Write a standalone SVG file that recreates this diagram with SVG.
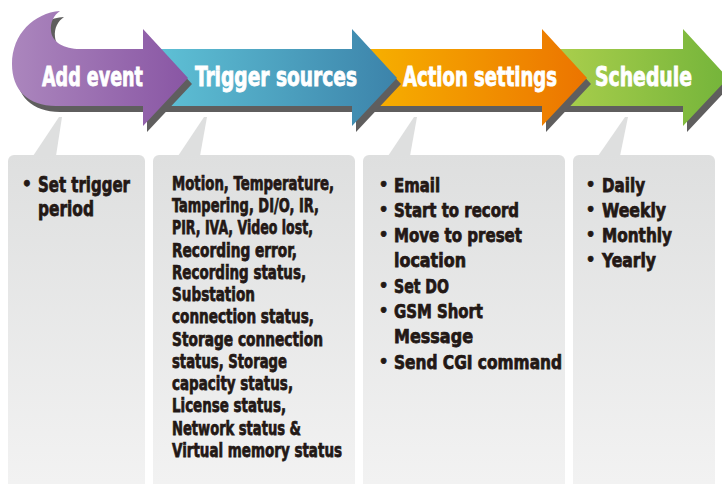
<svg xmlns="http://www.w3.org/2000/svg" width="722" height="484" viewBox="0 0 722 484">
<defs>
<linearGradient id="gP" gradientUnits="userSpaceOnUse" x1="12" y1="0" x2="188" y2="0"><stop offset="0" stop-color="#ab86bd"/><stop offset="1" stop-color="#8956a4"/></linearGradient>
<linearGradient id="gT" gradientUnits="userSpaceOnUse" x1="160" y1="0" x2="397" y2="0"><stop offset="0" stop-color="#5ec0d5"/><stop offset="1" stop-color="#3c83aa"/></linearGradient>
<linearGradient id="gO" gradientUnits="userSpaceOnUse" x1="360" y1="0" x2="587" y2="0"><stop offset="0" stop-color="#f7b200"/><stop offset="1" stop-color="#ec7400"/></linearGradient>
<linearGradient id="gG" gradientUnits="userSpaceOnUse" x1="560" y1="0" x2="728" y2="0"><stop offset="0" stop-color="#a9ce4c"/><stop offset="1" stop-color="#74b43a"/></linearGradient>
<linearGradient id="gPanel" x1="0" y1="0" x2="0" y2="1"><stop offset="0" stop-color="#dedfdf"/><stop offset="1" stop-color="#f3f3f3"/></linearGradient>
</defs>
<style>
.sh{fill:#5f5e5e}
.hd{font-family:"Liberation Sans Narrow","DejaVu Sans Condensed","Liberation Sans",sans-serif;font-weight:bold;font-size:26px;fill:#ffffff;stroke:#ffffff;stroke-width:0.8}
.pn{fill:url(#gPanel)}
.tl{fill:#dedfdf}
.tx{font-family:"Liberation Sans Narrow","DejaVu Sans Condensed","Liberation Sans",sans-serif;font-weight:bold;font-size:20px;fill:#231815;stroke:#231815;stroke-width:0.75}
.bl{font-size:16px}
</style>
<rect width="722" height="484" fill="#ffffff"/>

<g id="arrow-schedule">
<path class="sh" transform="translate(4,6)" d="M550,49 L683,49 L683,29 L728,78 L683,126 L683,106 L550,106 Z"/>
<path fill="url(#gG)" d="M550,49 L683,49 L683,29 L728,78 L683,126 L683,106 L550,106 Z"/>
<text class="hd" x="595" y="86" textLength="97" lengthAdjust="spacingAndGlyphs">Schedule</text>
</g>
<g id="arrow-action-settings">
<path class="sh" transform="translate(4,6)" d="M360,49 L542,49 L542,29 L587,78 L542,126 L542,106 L360,106 Z"/>
<path fill="url(#gO)" d="M360,49 L542,49 L542,29 L587,78 L542,126 L542,106 L360,106 Z"/>
<text class="hd" x="403" y="86" textLength="154" lengthAdjust="spacingAndGlyphs">Action settings</text>
</g>
<g id="arrow-trigger-sources">
<path class="sh" transform="translate(4,6)" d="M150,49 L352,49 L352,29 L397,78 L352,126 L352,106 L150,106 Z"/>
<path fill="url(#gT)" d="M150,49 L352,49 L352,29 L397,78 L352,126 L352,106 L150,106 Z"/>
<text class="hd" x="195" y="86" textLength="162" lengthAdjust="spacingAndGlyphs">Trigger sources</text>
</g>
<g id="arrow-add-event">
<path class="sh" transform="translate(4,6)" d="M60,11 C34,13 12,34 12,64 C12,90 28,106 56,106 L143,106 L143,126 L188,78 L143,29 L143,49 L80,49 C64,49 52,42 51,31 C50,22 54,15 60,11 Z"/>
<path fill="url(#gP)" d="M60,11 C34,13 12,34 12,64 C12,90 28,106 56,106 L143,106 L143,126 L188,78 L143,29 L143,49 L80,49 C64,49 52,42 51,31 C50,22 54,15 60,11 Z"/>
<text class="hd" x="42" y="86" textLength="101" lengthAdjust="spacingAndGlyphs">Add event</text>
</g>

<g id="connectors"></g>

<g id="panel-add-event">
<path class="tl" d="M33,156 L59,117 L62,117 L56,156 Z"/>
<rect class="pn" x="8" y="155" width="137" height="345" rx="6"/>
<text class="tx" style="font-size:22px"><tspan class="bl" x="22" y="190" style="font-size:17px">•</tspan><tspan x="38" y="192" textLength="92" lengthAdjust="spacingAndGlyphs">Set trigger</tspan></text>
<text class="tx" x="38" y="216" style="font-size:22px" textLength="56" lengthAdjust="spacingAndGlyphs">period</text>
</g>

<g id="panel-trigger-sources">
<path class="tl" d="M178,156 L204,117 L207,117 L200,156 Z"/>
<rect class="pn" x="153" y="155" width="202" height="345" rx="6"/>
<text class="tx" x="172" y="190" textLength="162" lengthAdjust="spacingAndGlyphs">Motion, Temperature,</text>
<text class="tx" x="172" y="212" textLength="147" lengthAdjust="spacingAndGlyphs">Tampering, DI/O, IR,</text>
<text class="tx" x="172" y="234" textLength="141" lengthAdjust="spacingAndGlyphs">PIR, IVA, Video lost,</text>
<text class="tx" x="172" y="257" textLength="125" lengthAdjust="spacingAndGlyphs">Recording error,</text>
<text class="tx" x="172" y="279" textLength="134" lengthAdjust="spacingAndGlyphs">Recording status,</text>
<text class="tx" x="172" y="301" textLength="83" lengthAdjust="spacingAndGlyphs">Substation</text>
<text class="tx" x="172" y="323" textLength="142" lengthAdjust="spacingAndGlyphs">connection status,</text>
<text class="tx" x="172" y="346" textLength="151" lengthAdjust="spacingAndGlyphs">Storage connection</text>
<text class="tx" x="172" y="368" textLength="115" lengthAdjust="spacingAndGlyphs">status, Storage</text>
<text class="tx" x="172" y="390" textLength="121" lengthAdjust="spacingAndGlyphs">capacity status,</text>
<text class="tx" x="172" y="412" textLength="114" lengthAdjust="spacingAndGlyphs">License status,</text>
<text class="tx" x="172" y="435" textLength="129" lengthAdjust="spacingAndGlyphs">Network status &amp;</text>
<text class="tx" x="172" y="457" textLength="170" lengthAdjust="spacingAndGlyphs">Virtual memory status</text>
</g>

<g id="panel-action-settings">
<path class="tl" d="M388,156 L414,117 L417,117 L410,156 Z"/>
<rect class="pn" x="363" y="155" width="202" height="345" rx="6"/>
<text class="tx"><tspan class="bl" x="379" y="190">•</tspan><tspan x="394" y="192" textLength="46" lengthAdjust="spacingAndGlyphs">Email</tspan></text>
<text class="tx"><tspan class="bl" x="379" y="215">•</tspan><tspan x="394" y="217" textLength="125" lengthAdjust="spacingAndGlyphs">Start to record</tspan></text>
<text class="tx"><tspan class="bl" x="379" y="240">•</tspan><tspan x="394" y="242" textLength="128" lengthAdjust="spacingAndGlyphs">Move to preset</tspan></text>
<text class="tx" x="394" y="267" textLength="72" lengthAdjust="spacingAndGlyphs">location</text>
<text class="tx"><tspan class="bl" x="379" y="291">•</tspan><tspan x="394" y="293" textLength="55" lengthAdjust="spacingAndGlyphs">Set DO</tspan></text>
<text class="tx"><tspan class="bl" x="379" y="316">•</tspan><tspan x="394" y="318" textLength="89" lengthAdjust="spacingAndGlyphs">GSM Short</tspan></text>
<text class="tx" x="394" y="343" textLength="79" lengthAdjust="spacingAndGlyphs">Message</text>
<text class="tx"><tspan class="bl" x="379" y="367">•</tspan><tspan x="394" y="369" textLength="168" lengthAdjust="spacingAndGlyphs">Send CGI command</tspan></text>
</g>

<g id="panel-schedule">
<path class="tl" d="M598,156 L625,117 L628,117 L620,156 Z"/>
<rect class="pn" x="573" y="155" width="142" height="345" rx="6"/>
<text class="tx"><tspan class="bl" x="586" y="190">•</tspan><tspan x="602" y="192" textLength="43" lengthAdjust="spacingAndGlyphs">Daily</tspan></text>
<text class="tx"><tspan class="bl" x="586" y="215">•</tspan><tspan x="602" y="217" textLength="64" lengthAdjust="spacingAndGlyphs">Weekly</tspan></text>
<text class="tx"><tspan class="bl" x="586" y="240">•</tspan><tspan x="602" y="242" textLength="70" lengthAdjust="spacingAndGlyphs">Monthly</tspan></text>
<text class="tx"><tspan class="bl" x="586" y="265">•</tspan><tspan x="602" y="267" textLength="54" lengthAdjust="spacingAndGlyphs">Yearly</tspan></text>
</g>
</svg>
